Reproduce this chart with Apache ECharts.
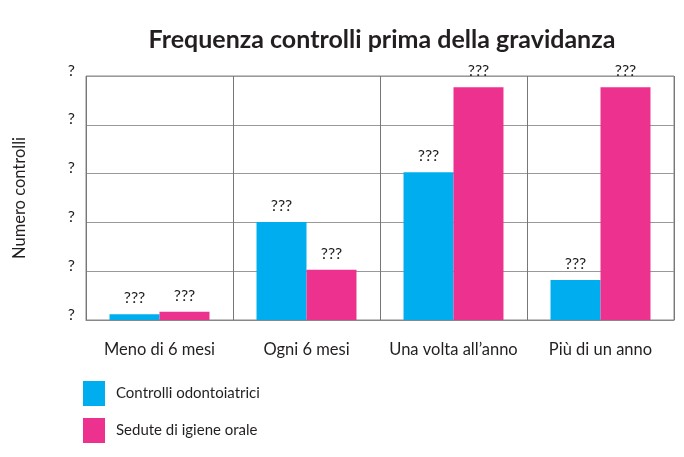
<!DOCTYPE html>
<html>
<head>
<meta charset="utf-8">
<script src="https://cdn.jsdelivr.net/npm/echarts@6/dist/echarts.min.js"></script>
<style>
html,body{margin:0;padding:0;background:#fff;}
#c{width:684px;height:457px;}
</style>
</head>
<body>
<div id="c"></div>
<script>
var categories = ['Meno di 6 mesi', 'Ogni 6 mesi', 'Una volta all\u2019anno', 'Pi\u00f9 di un anno'];
var controlliOdontoiatrici = [0.12, 2.01, 3.03, 0.82];
var seduteIgieneOrale = [0.17, 1.03, 4.77, 4.77];
var seriesNames = ['Controlli odontoiatrici', 'Sedute di igiene orale'];
var yTickLabel = '?';
var valueLabel = '???';

var FONT = 'Lato';
var chart = echarts.init(document.getElementById('c'), null, {renderer: 'canvas'});
var labelCfg = {show: true, position: 'top', distance: 8, formatter: function(){ return valueLabel; }, color: '#231f20', fontFamily: FONT, fontSize: 16};
chart.setOption({
  animation: false,
  textStyle: {fontFamily: FONT},
  title: {
    text: 'Frequenza controlli prima della gravidanza',
    left: 377, top: 22, textAlign: 'center',
    textStyle: {fontFamily: FONT, fontWeight: 'bold', fontSize: 25, color: '#231f20'}
  },
  legend: {
    orient: 'vertical', left: 78, top: 376,
    itemWidth: 22, itemHeight: 25, itemGap: 12, icon: 'rect',
    textStyle: {fontFamily: FONT, fontSize: 15, color: '#231f20', padding: [0,0,0,6]},
    data: seriesNames
  },
  grid: {left: 86, right: 10, top: 76, bottom: 137, show: true, borderColor: '#888', borderWidth: 1},
  xAxis: {
    type: 'category', data: categories,
    axisLine: {show: true, lineStyle: {color: '#888'}},
    axisTick: {show: false},
    splitLine: {show: true, lineStyle: {color: '#777'}},
    axisLabel: {fontFamily: FONT, fontSize: 16.5, color: '#231f20', margin: 21, interval: 0}
  },
  yAxis: {
    type: 'value', min: 0, max: 5, interval: 1,
    name: 'Numero controlli', nameLocation: 'middle', nameGap: 58, nameRotate: 90,
    nameTextStyle: {fontFamily: FONT, fontSize: 16.5, color: '#231f20'},
    axisLine: {show: false}, axisTick: {show: false},
    splitLine: {show: true, lineStyle: {color: '#999'}},
    axisLabel: {formatter: function(){ return yTickLabel; }, fontFamily: FONT, fontSize: 16, color: '#231f20', margin: 11, verticalAlign: 'bottom', lineHeight: 11}
  },
  series: [
    {name: seriesNames[0], type: 'bar', data: controlliOdontoiatrici, itemStyle: {color: '#00AEEF'}, barGap: '0%', barCategoryGap: '32%', label: labelCfg},
    {name: seriesNames[1], type: 'bar', data: seduteIgieneOrale, itemStyle: {color: '#EC318F'}, label: labelCfg}
  ]
});
</script>
</body>
</html>
